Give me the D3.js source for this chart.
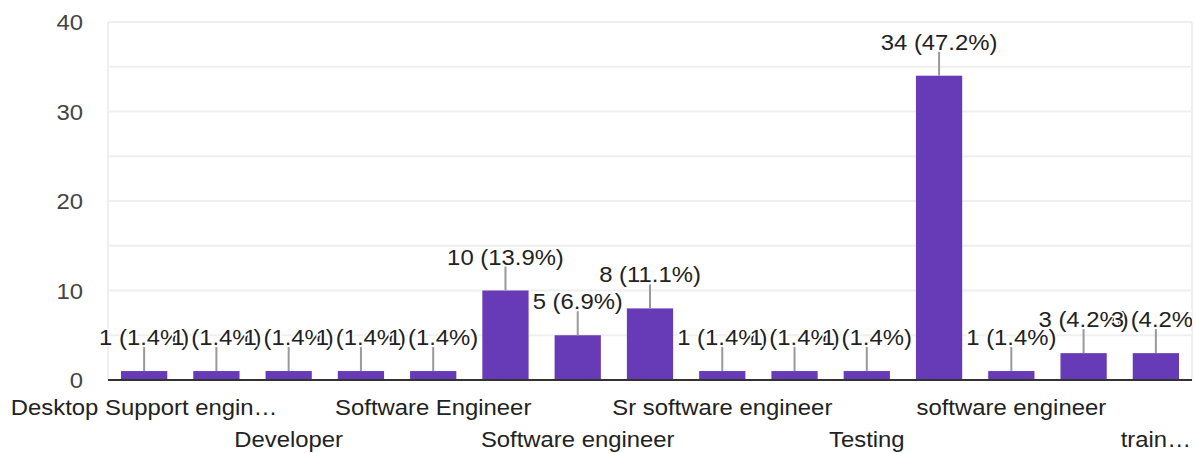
<!DOCTYPE html>
<html>
<head>
<meta charset="utf-8">
<script src="https://cdn.jsdelivr.net/npm/d3@7/dist/d3.min.js"></script>
<style>
  html, body { margin: 0; padding: 0; background: #fff; }
  svg { display: block; font-family: "Liberation Sans", Arial, sans-serif; }
</style>
</head>
<body>
<svg id="chart" width="1196" height="453"></svg>
<script>
// Job titles (axis text as displayed) and response counts
const categories = [
  "Desktop Support engin…", "Dev ops", "Developer", "QA Engineer",
  "Software Engineer", "Software Engineer Trainee", "Software engineer",
  "Software engineer trainee", "Sr software engineer", "Team Lead",
  "Testing", "software developer", "software engineer", "tester", "train…"
];
const counts = [1, 1, 1, 1, 1, 10, 5, 8, 1, 1, 1, 34, 1, 3, 3];
const percents = [1.4, 1.4, 1.4, 1.4, 1.4, 13.9, 6.9, 11.1, 1.4, 1.4, 1.4, 47.2, 1.4, 4.2, 4.2];
const yTicks = [0, 10, 20, 30, 40];
const yGrid = [5, 10, 15, 20, 25, 30, 35, 40];

const svg = d3.select("#chart");
const plotLeft = 108, plotRight = 1192, plotTop = 22, plotBottom = 380;
const fontSize = 21.5, stretch = 1.11;

const x = d3.scaleBand().domain(d3.range(categories.length))
  .range([plotLeft, plotRight]).paddingInner(0.36).paddingOuter(0.18);
const y = d3.scaleLinear().domain([0, 40]).range([plotBottom, plotTop]);

// value labels are cut at the right edge of the plot
svg.append("defs").append("clipPath").attr("id", "plot-clip")
  .append("rect").attr("x", 0).attr("y", 0)
  .attr("width", plotRight).attr("height", plotBottom + 2);

// gridlines
svg.append("g").selectAll("line").data(yGrid).join("line")
  .attr("x1", plotLeft).attr("x2", plotRight)
  .attr("y1", d => y(d)).attr("y2", d => y(d))
  .attr("stroke", "#efefef").attr("stroke-width", 2);
// frame sides
svg.append("g").selectAll("line").data([plotLeft, plotRight]).join("line")
  .attr("x1", d => d).attr("x2", d => d)
  .attr("y1", y(40)).attr("y2", y(0))
  .attr("stroke", "#efefef").attr("stroke-width", 2);

// y tick labels
const yAxis = d3.axisLeft(y).tickValues(yTicks).tickSize(0).tickPadding(0);
const gy = svg.append("g").attr("transform", `translate(${plotLeft - 25},0)`).call(yAxis);
gy.select(".domain").remove();
gy.selectAll("text")
  .attr("font-size", fontSize).attr("fill", "#444")
  .attr("font-family", "Liberation Sans, Arial, sans-serif")
  .attr("x", 0).attr("dy", "0.36em")
  .style("transform-box", "fill-box").style("transform-origin", "right center")
  .style("transform", `scaleX(${stretch})`);

// bars
svg.append("g").selectAll("rect").data(counts).join("rect")
  .attr("x", (d, i) => x(i)).attr("width", x.bandwidth())
  .attr("y", d => y(d)).attr("height", d => y(0) - y(d))
  .attr("fill", "#673ab7");

// baseline
svg.append("line").attr("x1", plotLeft).attr("x2", plotRight)
  .attr("y1", y(0)).attr("y2", y(0))
  .attr("stroke", "#333").attr("stroke-width", 2);

// annotation stems and value labels
const ann = svg.append("g").attr("clip-path", "url(#plot-clip)");
counts.forEach((d, i) => {
  const cx = x(i) + x.bandwidth() / 2;
  const barTop = y(d);
  ann.append("line").attr("x1", cx).attr("x2", cx)
    .attr("y1", barTop).attr("y2", barTop - 24)
    .attr("stroke", "#999").attr("stroke-width", 2);
  ann.append("text")
    .attr("transform", `translate(${cx},${barTop - 26}) scale(${stretch},1)`)
    .attr("text-anchor", "middle")
    .attr("font-size", fontSize).attr("fill", "#222")
    .attr("stroke", "#fff").attr("stroke-width", 3).attr("paint-order", "stroke")
    .text(`${d} (${percents[i]}%)`);
});

// x axis labels: every other category, alternating between two rows
const xl = svg.append("g");
categories.forEach((c, i) => {
  if (i % 2 !== 0) return;
  const cx = x(i) + x.bandwidth() / 2;
  const row = (i / 2) % 2;
  xl.append("text")
    .attr("transform", `translate(${cx},${row ? 447 : 415}) scale(${stretch},1)`)
    .attr("text-anchor", "middle")
    .attr("font-size", fontSize).attr("fill", "#222")
    .text(c);
});
</script>
</body>
</html>
